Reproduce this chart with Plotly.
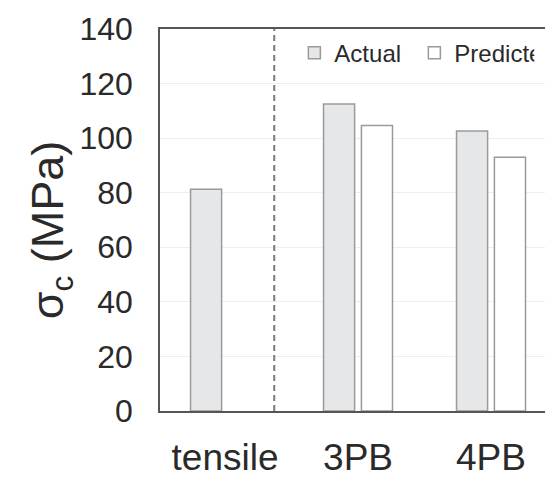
import plotly.graph_objects as go

categories = ["tensile", "3PB", "4PB"]
actual = [81.3, 112.5, 102.6]
predicted = [None, 104.6, 93.0]
y_ticks = [0, 20, 40, 60, 80, 100, 120, 140]

FONT = "Liberation Sans, Arial, Helvetica, sans-serif"

fig = go.Figure()
fig.add_trace(go.Bar(
    name="Actual", x=categories, y=actual,
    marker=dict(color="#e6e7e9", line=dict(color="#9a9a9a", width=1.5)),
))
fig.add_trace(go.Bar(
    name="Predicted", x=categories, y=predicted,
    marker=dict(color="#ffffff", line=dict(color="#9a9a9a", width=1.5)),
))

fig.add_shape(type="line", xref="x", yref="paper", x0=0.37, x1=0.37, y0=0, y1=1,
              line=dict(color="#7a7a7a", width=2, dash="6px,4px"))

fig.add_annotation(text="σ<sub>c</sub> (MPa)", xref="paper", yref="paper",
                   x=-0.284, y=0.475, textangle=-90, showarrow=False,
                   xanchor="center", yanchor="middle",
                   font=dict(family=FONT, size=45, color="#2a2a2a"))

fig.update_layout(
    width=545, height=477,
    margin=dict(l=160, r=0, t=29, b=66),
    paper_bgcolor="white", plot_bgcolor="white",
    barmode="group", bargap=0.43, bargroupgap=0.18,
    font=dict(family=FONT, color="#2a2a2a"),
    showlegend=True,
    legend=dict(orientation="h", x=0.349, y=0.937, xanchor="left", yanchor="middle",
                font=dict(size=24, family=FONT, color="#2a2a2a"),
                bgcolor="rgba(0,0,0,0)", entrywidth=75, entrywidthmode="pixels",
                itemclick=False),
    xaxis=dict(range=[-0.489, 2.406], showline=True, mirror=True, linecolor="#555555",
               linewidth=1.5, showgrid=False, ticks="outside", ticklen=13,
               tickcolor="rgba(0,0,0,0)", automargin=False,
               tickfont=dict(size=37, family=FONT, color="#2a2a2a")),
    yaxis=dict(range=[0, 140], tickvals=y_ticks, showline=True, linecolor="#555555",
               linewidth=1.5, showgrid=True, gridcolor="#eeeeee", gridwidth=1,
               zeroline=False, ticks="outside", ticklen=19, tickcolor="rgba(0,0,0,0)",
               automargin=False,
               tickfont=dict(size=32, family=FONT, color="#2a2a2a")),
)

fig.write_html("out.html")
